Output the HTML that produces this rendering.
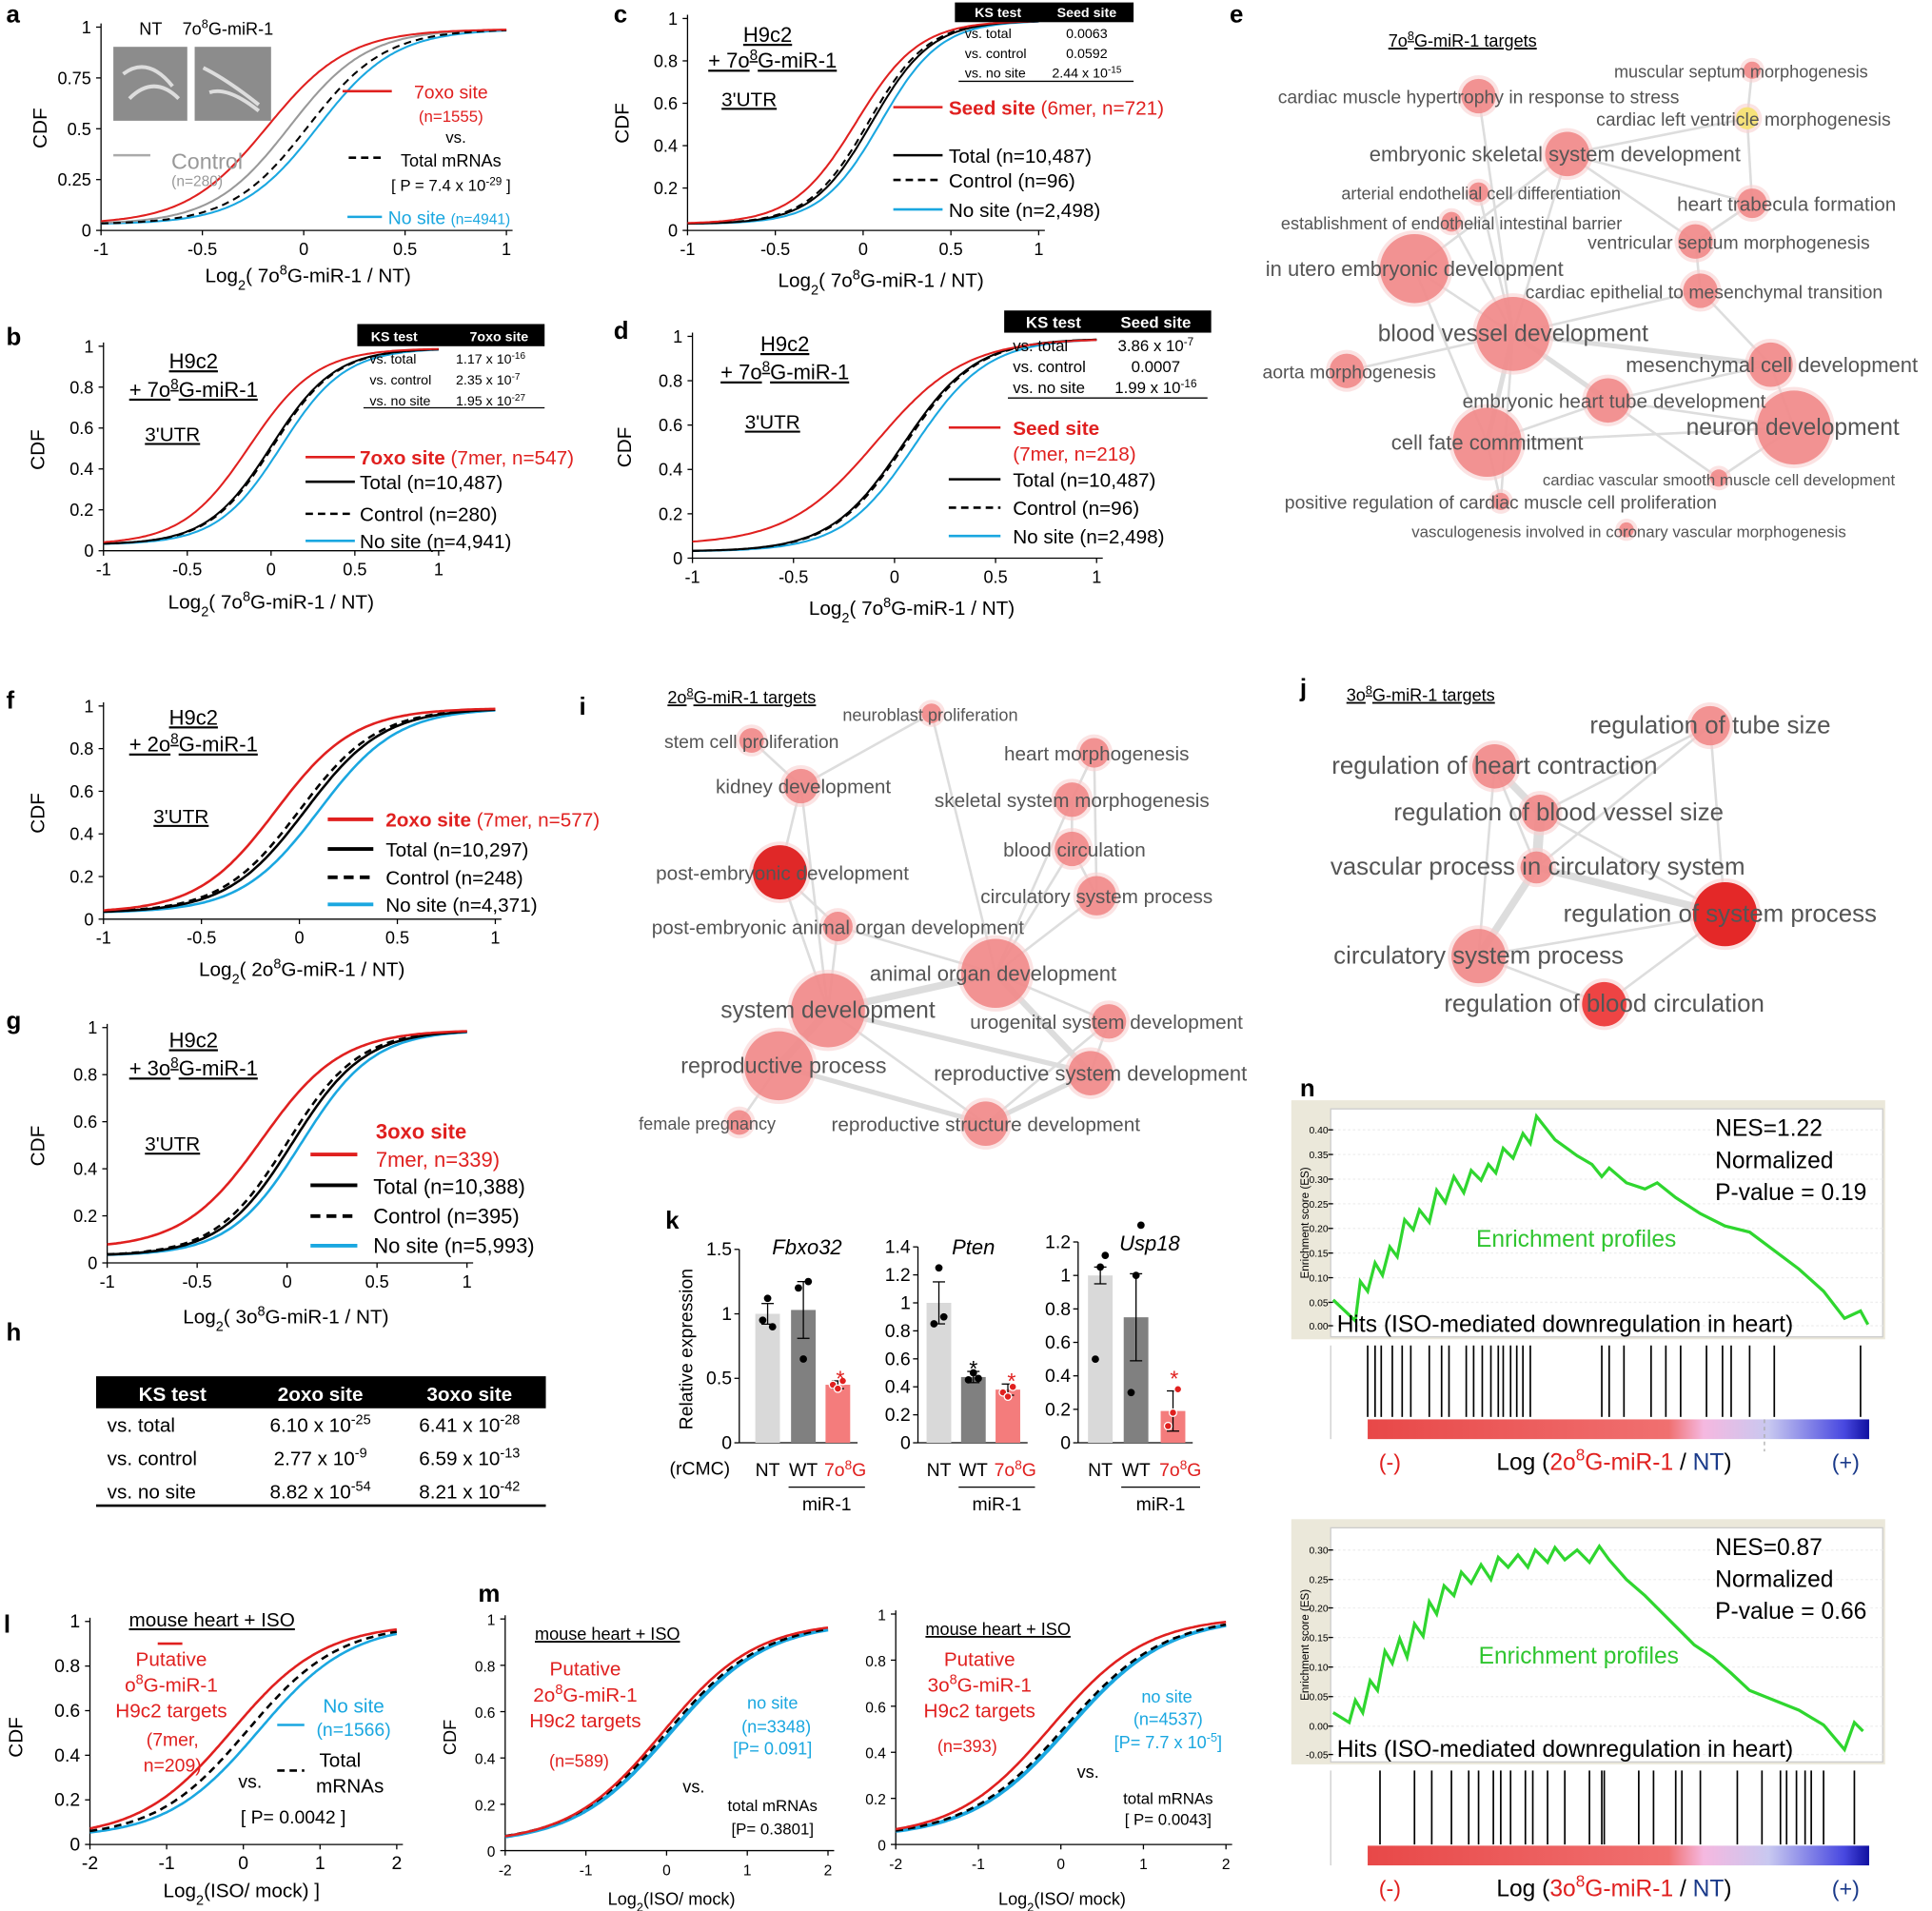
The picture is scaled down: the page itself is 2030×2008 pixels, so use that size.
<!DOCTYPE html>
<html><head><meta charset="utf-8"><style>html,body{margin:0;padding:0;background:#fff}svg{display:block}</style></head>
<body>
<svg id="sv" xmlns="http://www.w3.org/2000/svg" width="2030" height="2008" viewBox="0 0 1568 1551" font-family="Liberation Sans, Arial, sans-serif"></svg>
<script>
let s='';
const R='#e0201f',C='#1aa7e0',G='#999';
function fm(str){return String(str).replace(/\^([^\^]+)\^/g,'<tspan baseline-shift="super" font-size="70%">$1</tspan>').replace(/_([^_]+)_/g,'<tspan baseline-shift="sub" font-size="70%">$1</tspan>');}
function t(x,y,str,o={}){s+=`<text x="${x}" y="${y}" font-size="${o.s||15}" fill="${o.c||'#000'}" text-anchor="${o.a||'start'}" ${o.b?'font-weight="bold"':''} ${o.i?'font-style="italic"':''} ${o.r?`transform="rotate(-90 ${x} ${y})"`:''} ${o.u?'text-decoration="underline"':''}>${fm(str)}</text>`;}
function l(x1,y1,x2,y2,c='#000',w=1,d=''){s+=`<line x1="${x1}" y1="${y1}" x2="${x2}" y2="${y2}" stroke="${c}" stroke-width="${w}" ${d?`stroke-dasharray="${d}"`:''}/>`;}
function rc(x,y,w,h,f,st=''){s+=`<rect x="${x}" y="${y}" width="${w}" height="${h}" fill="${f}" ${st}/>`;}
function cdf(P){
 const X=v=>P.x0+(v-P.xa)/(P.xb-P.xa)*(P.x1-P.x0),Y=v=>P.y0-v*(P.y0-P.y1);
 l(P.x0,P.y0,P.x1+5,P.y0);l(P.x0,P.y0,P.x0,P.y1-3);
 const fs=P.fs||14;
 P.yt.forEach(v=>{l(P.x0-4,Y(v),P.x0,Y(v));t(P.x0-8,Y(v)+5,v,{a:'end',s:fs});});
 P.xt.forEach(v=>{l(X(v),P.y0,X(v),P.y0+4);t(X(v),P.y0+20,v,{a:'middle',s:fs});});
 P.c.forEach(c=>{let pts=[];for(let i=0;i<=160;i++){const v=P.xa+(P.xb-P.xa)*i/160;const p=(c.lo||0.03)+(0.99-(c.lo||0.03))/(1+Math.exp(-(v-c.m)/c.s));pts.push(X(v).toFixed(1)+','+Y(p).toFixed(1));}
 s+=`<polyline points="${pts.join(' ')}" fill="none" stroke="${c.c}" stroke-width="${c.w||1.6}" ${c.d?`stroke-dasharray="${c.d}"`:''}/>`;});
}
const L=(a,b)=>`Log_2_( ${a}^8^G-miR-1 / NT)`;
// ---- a
t(5,18,'a',{b:1,s:20});
rc(92,38,60,60,'#8c8c8c');rc(158,38,62,60,'#8c8c8c');
s+='<path d="M100,60 q20,-15 40,10 M105,80 q20,-20 40,0 M165,55 q20,10 45,30 M170,75 q15,-5 40,15" stroke="#ddd" stroke-width="3" fill="none"/>';
t(113,28,'NT',{s:14});t(148,28,'7o^8^G-miR-1',{s:14});
cdf({x0:82,x1:411,xa:-1,xb:1,y0:187,y1:22,yt:[0,0.25,0.5,0.75,1],xt:[-1,-0.5,0,0.5,1],c:[{c:C,m:0.07,s:0.19},{c:G,m:-0.07,s:0.19},{c:'#000',m:0.02,s:0.19,d:'6,4'},{c:R,m:-0.18,s:0.2}]});
t(38,104,'CDF',{r:1,a:'middle',s:16});t(250,229,L('7o'),{a:'middle',s:16});
l(278,74,318,74,R,2);t(366,80,'7oxo site',{a:'middle',c:R,s:15});t(366,99,'(n=1555)',{a:'middle',c:R,s:13});t(370,116,'vs.',{a:'middle',s:13});
l(283,128,310,128,'#000',2,'6,4');t(366,135,'Total mRNAs',{a:'middle',s:14});t(366,155,'[ P = 7.4 x 10^-29^ ]',{a:'middle',s:13});
l(92,126,122,126,'#aaa',2);t(168,137,'Control',{a:'middle',c:G,s:18});t(160,151,'(n=280)',{a:'middle',c:G,s:12});
l(282,176,310,176,C,2);t(315,182,'No site <tspan font-size="12">(n=4941)</tspan>',{c:C,s:15});
// ---- b
t(5,280,'b',{b:1,s:20});
cdf({x0:84,x1:356,xa:-1,xb:1,y0:447,y1:281,yt:[0,0.2,0.4,0.6,0.8,1],xt:[-1,-0.5,0,0.5,1],c:[{c:C,m:0.06,s:0.19},{c:'#000',m:0.01,s:0.19,d:'6,4'},{c:'#000',m:0,s:0.19},{c:R,m:-0.13,s:0.2}]});
t(36,365,'CDF',{r:1,a:'middle',s:16});t(220,494,L('7o'),{a:'middle',s:16});
t(157,299,'H9c2',{a:'middle',s:17,u:1});t(157,322,'+ 7o^8^G-miR-1',{a:'middle',s:17,u:1});t(140,358,"3'UTR",{a:'middle',s:16,u:1});
rc(290,263,152,18,'#000');t(320,277,'KS test',{a:'middle',c:'#fff',b:1,s:11});t(405,277,'7oxo site',{a:'middle',c:'#fff',b:1,s:11});
[['vs. total','1.17 x 10^-16^'],['vs. control','2.35 x 10^-7^'],['vs. no site','1.95 x 10^-27^']].forEach((r,i)=>{t(300,295+i*17,r[0],{s:11});t(370,295+i*17,r[1],{s:11});});l(295,331,442,331);
l(248,371,288,371,R,2);t(292,377,'<tspan font-weight="bold">7oxo site</tspan> (7mer, n=547)',{c:R,s:16});
l(248,391,288,391,'#000',2);t(292,397,'Total (n=10,487)',{s:16});l(248,417,288,417,'#000',2,'6,4');t(292,423,'Control (n=280)',{s:16});l(248,439,288,439,C,2);t(292,445,'No site (n=4,941)',{s:16});
// ---- c
t(498,18,'c',{b:1,s:20});
cdf({x0:558,x1:843,xa:-1,xb:1,y0:187,y1:15,yt:[0,0.2,0.4,0.6,0.8,1],xt:[-1,-0.5,0,0.5,1],c:[{c:C,m:0.1,s:0.17},{c:'#000',m:0.03,s:0.17,d:'6,4'},{c:'#000',m:0.05,s:0.17},{c:R,m:-0.04,s:0.18}]});
t(510,100,'CDF',{r:1,a:'middle',s:16});t(715,233,L('7o'),{a:'middle',s:16});
t(623,34,'H9c2',{a:'middle',s:17,u:1});t(627,55,'+ 7o^8^G-miR-1',{a:'middle',s:17,u:1});t(608,86,"3'UTR",{a:'middle',s:16,u:1});
rc(775,2,145,16,'#000');t(810,14,'KS test',{a:'middle',c:'#fff',b:1,s:11});t(882,14,'Seed site',{a:'middle',c:'#fff',b:1,s:11});
[['vs. total','0.0063'],['vs. control','0.0592'],['vs. no site','2.44 x 10^-15^']].forEach((r,i)=>{t(783,31+i*16,r[0],{s:11});t(882,31+i*16,r[1],{a:'middle',s:11});});l(778,66,920,66);
l(725,87,765,87,R,2);t(770,93,'<tspan font-weight="bold">Seed site</tspan> (6mer, n=721)',{c:R,s:16});
l(725,126,765,126,'#000',2);t(770,132,'Total (n=10,487)',{s:16});l(725,146,765,146,'#000',2,'6,4');t(770,152,'Control (n=96)',{s:16});l(725,170,765,170,C,2);t(770,176,'No site (n=2,498)',{s:16});
// ---- d
t(498,275,'d',{b:1,s:20});
cdf({x0:562,x1:890,xa:-1,xb:1,y0:453,y1:273,yt:[0,0.2,0.4,0.6,0.8,1],xt:[-1,-0.5,0,0.5,1],c:[{c:C,m:0.1,s:0.18},{c:'#000',m:0.05,s:0.18,d:'6,4'},{c:'#000',m:0.04,s:0.18},{c:R,m:-0.09,s:0.22,lo:0.06}]});
t(512,363,'CDF',{r:1,a:'middle',s:16});t(740,499,L('7o'),{a:'middle',s:16});
t(637,285,'H9c2',{a:'middle',s:17,u:1});t(637,308,'+ 7o^8^G-miR-1',{a:'middle',s:17,u:1});t(627,348,"3'UTR",{a:'middle',s:16,u:1});
rc(815,252,168,18,'#000');t(855,266,'KS test',{a:'middle',c:'#fff',b:1,s:13});t(938,266,'Seed site',{a:'middle',c:'#fff',b:1,s:13});
[['vs. total','3.86 x 10^-7^'],['vs. control','0.0007'],['vs. no site','1.99 x 10^-16^']].forEach((r,i)=>{t(822,285+i*17,r[0],{s:13});t(938,285+i*17,r[1],{a:'middle',s:13});});l(818,323,980,323);
l(770,347,812,347,R,2);t(822,353,'Seed site',{c:R,b:1,s:16});t(822,374,'(7mer, n=218)',{c:R,s:16});
l(770,389,812,389,'#000',2);t(822,395,'Total (n=10,487)',{s:16});l(770,412,812,412,'#000',2,'6,4');t(822,418,'Control (n=96)',{s:16});l(770,435,812,435,C,2);t(822,441,'No site (n=2,498)',{s:16});
// ---- f
t(5,575,'f',{b:1,s:20});
cdf({x0:84,x1:402,xa:-1,xb:1,y0:746,y1:573,yt:[0,0.2,0.4,0.6,0.8,1],xt:[-1,-0.5,0,0.5,1],c:[{c:C,m:0.1,s:0.2,w:2},{c:'#000',m:0.0,s:0.2,d:'6,4',w:2},{c:'#000',m:0.03,s:0.2,w:2},{c:R,m:-0.12,s:0.2,w:2}]});
t(36,660,'CDF',{r:1,a:'middle',s:16});t(245,792,L('2o'),{a:'middle',s:16});
t(157,588,'H9c2',{a:'middle',s:17,u:1});t(157,610,'+ 2o^8^G-miR-1',{a:'middle',s:17,u:1});t(147,668,"3'UTR",{a:'middle',s:16,u:1});
l(266,665,303,665,R,3);t(313,671,'<tspan font-weight="bold">2oxo site</tspan> (7mer, n=577)',{c:R,s:16});
l(266,689,303,689,'#000',3);t(313,695,'Total (n=10,297)',{s:16});l(266,712,303,712,'#000',3,'8,5');t(313,718,'Control (n=248)',{s:16});l(266,734,303,734,C,3);t(313,740,'No site (n=4,371)',{s:16});
// ---- g
t(5,835,'g',{b:1,s:20});
cdf({x0:87,x1:379,xa:-1,xb:1,y0:1025,y1:834,yt:[0,0.2,0.4,0.6,0.8,1],xt:[-1,-0.5,0,0.5,1],c:[{c:C,m:0.08,s:0.2,w:2},{c:'#000',m:0.0,s:0.2,d:'6,4',w:2},{c:'#000',m:0.03,s:0.2,w:2},{c:R,m:-0.14,s:0.22,w:2,lo:0.06}]});
t(36,930,'CDF',{r:1,a:'middle',s:16});t(232,1074,L('3o'),{a:'middle',s:16});
t(157,850,'H9c2',{a:'middle',s:17,u:1});t(157,873,'+ 3o^8^G-miR-1',{a:'middle',s:17,u:1});t(140,934,"3'UTR",{a:'middle',s:16,u:1});
t(305,924,'3oxo site',{c:R,b:1,s:17});l(252,937,290,937,R,3);t(305,947,'7mer, n=339)',{c:R,s:17});
l(252,962,290,962,'#000',3);t(303,969,'Total (n=10,388)',{s:17});l(252,987,290,987,'#000',3,'8,5');t(303,993,'Control (n=395)',{s:17});l(252,1011,290,1011,C,3);t(303,1017,'No site (n=5,993)',{s:17});
// ---- h
t(5,1088,'h',{b:1,s:20});
rc(78,1117,365,26,'#000');t(140,1137,'KS test',{a:'middle',c:'#fff',b:1,s:16});t(260,1137,'2oxo site',{a:'middle',c:'#fff',b:1,s:16});t(381,1137,'3oxo site',{a:'middle',c:'#fff',b:1,s:16});
[['vs. total','6.10 x 10^-25^','6.41 x 10^-28^'],['vs. control','2.77 x 10^-9^','6.59 x 10^-13^'],['vs. no site','8.82 x 10^-54^','8.21 x 10^-42^']].forEach((r,i)=>{const y=1162+i*27;t(87,y,r[0],{s:16});t(260,y,r[1],{a:'middle',s:16});t(381,y,r[2],{a:'middle',s:16});});
l(78,1222,443,1222,'#000',2);
// ---- l
t(3,1325,'l',{b:1,s:20});
cdf({x0:73,x1:322,xa:-2,xb:2,y0:1497,y1:1316,yt:[0,0.2,0.4,0.6,0.8,1],xt:[-2,-1,0,1,2],fs:15,c:[{c:C,m:0.2,s:0.6,w:2},{c:'#000',m:0.05,s:0.6,d:'6,4',w:2},{c:R,m:-0.15,s:0.6,w:2}]});
t(18,1410,'CDF',{r:1,a:'middle',s:16});t(196,1540,'Log_2_(ISO/ mock) ]',{a:'middle',s:16});
t(172,1320,'mouse heart  + ISO',{a:'middle',s:16,u:1});l(128,1334,148,1334,R,2);
['Putative','o^8^G-miR-1','H9c2 targets'].forEach((x,i)=>t(139,1352+i*21,x,{a:'middle',c:R,s:16}));t(140,1417,'(7mer,',{a:'middle',c:R,s:15});t(140,1438,'n=209)',{a:'middle',c:R,s:15});
t(203,1451,'vs.',{a:'middle',s:15});l(225,1400,247,1400,C,2);t(287,1390,'No site',{a:'middle',c:C,s:16});t(287,1409,'(n=1566)',{a:'middle',c:C,s:15});
l(225,1437,247,1437,'#000',2,'6,4');t(276,1434,'Total',{a:'middle',s:16});t(284,1455,'mRNAs',{a:'middle',s:16});t(238,1480,'[ P= 0.0042 ]',{a:'middle',s:15});
// ---- m
t(388,1300,'m',{b:1,s:20});
cdf({x0:410,x1:672,xa:-2,xb:2,y0:1502,y1:1314,yt:[0,0.2,0.4,0.6,0.8,1],xt:[-2,-1,0,1,2],fs:12,c:[{c:C,m:0.05,s:0.6,w:3},{c:'#000',m:0,s:0.6,d:'6,4',w:2},{c:R,m:-0.05,s:0.58,w:2}]});
t(370,1410,'CDF',{r:1,a:'middle',s:14});t(545,1546,'Log_2_(ISO/ mock)',{a:'middle',s:14});
t(493,1331,'mouse heart  + ISO',{a:'middle',s:14,u:1});
['Putative','2o^8^G-miR-1','H9c2 targets'].forEach((x,i)=>t(475,1360+i*21,x,{a:'middle',c:R,s:16}));t(470,1434,'(n=589)',{a:'middle',c:R,s:14});t(563,1455,'vs.',{a:'middle',s:14});
t(627,1387,'no site',{a:'middle',c:C,s:14});t(630,1406,'(n=3348)',{a:'middle',c:C,s:14});t(627,1424,'[P= 0.091]',{a:'middle',c:C,s:14});t(627,1470,'total mRNAs',{a:'middle',s:13});t(627,1489,'[P= 0.3801]',{a:'middle',s:13});
cdf({x0:727,x1:995,xa:-2,xb:2,y0:1497,y1:1310,yt:[0,0.2,0.4,0.6,0.8,1],xt:[-2,-1,0,1,2],fs:12,c:[{c:C,m:0.1,s:0.6,w:3},{c:'#000',m:0.05,s:0.6,d:'6,4',w:2},{c:R,m:-0.12,s:0.58,w:2}]});
t(862,1546,'Log_2_(ISO/ mock)',{a:'middle',s:14});t(810,1327,'mouse heart  + ISO',{a:'middle',s:14,u:1});
['Putative','3o^8^G-miR-1','H9c2 targets'].forEach((x,i)=>t(795,1352+i*21,x,{a:'middle',c:R,s:16}));t(785,1422,'(n=393)',{a:'middle',c:R,s:14});t(883,1443,'vs.',{a:'middle',s:14});
t(947,1382,'no site',{a:'middle',c:C,s:14});t(948,1400,'(n=4537)',{a:'middle',c:C,s:14});t(948,1419,'[P= 7.7 x 10^-5^]',{a:'middle',c:C,s:14});t(948,1464,'total mRNAs',{a:'middle',s:13});t(948,1481,'[ P= 0.0043]',{a:'middle',s:13});
// ---- k
t(540,997,'k',{b:1,s:20});t(562,1095,'Relative expression',{r:1,a:'middle',s:15});t(568,1197,'(rCMC)',{a:'middle',s:15});
function bars(ax,top,max,ticks,xs,h,err,gene,gx,gy,dots){
 const Y=v=>1171-v/max*(1171-top);
 l(ax,1171,ax,top);l(ax,1171,xs[2]+16,1171);
 ticks.forEach(v=>{l(ax-4,Y(v),ax,Y(v));t(ax-6,Y(v)+5,v,{a:'end',s:15});});
 const cols=['#d9d9d9','#808080','#f47c7c'];
 xs.forEach((x,i)=>{rc(x-10,Y(h[i]),20,1171-Y(h[i]),cols[i]);l(x,Y(h[i]-err[i]),x,Y(h[i]+err[i]));l(x-5,Y(h[i]-err[i]),x+5,Y(h[i]-err[i]));l(x-5,Y(h[i]+err[i]),x+5,Y(h[i]+err[i]));
  dots[i].forEach((d,j)=>{s+=`<circle cx="${x+(j-1)*4}" cy="${Y(d)}" r="3" fill="${i==2?R:'#000'}" ${i==2?'stroke="#fff"':''}/>`;});});
 t(gx,gy,gene,{a:'middle',i:1,s:17});
 t(xs[0],1198,'NT',{a:'middle',s:15});t(xs[1],1198,'WT',{a:'middle',s:15});t(xs[2]+6,1198,'7o^8^G',{a:'middle',s:15,c:R});
 l(xs[1]-12,1207,xs[2]+22,1207);t((xs[1]+xs[2])/2+5,1226,'miR-1',{a:'middle',s:15});
}
bars(600,1014,1.5,[0,0.5,1,1.5],[623,652,680],[1,1.03,0.45],[0.08,0.22,0.03],'Fbxo32',655,1018,[[0.95,1.12,0.9],[1.2,0.65,1.25],[0.45,0.42,0.48]]);
t(682,1125,'*',{a:'middle',c:R,s:18});
bars(745,1012,1.4,[0,0.2,0.4,0.6,0.8,1,1.2,1.4],[762,790,818],[1,0.47,0.38],[0.15,0.04,0.04],'Pten',790,1018,[[0.85,1.25,0.9],[0.45,0.5,0.46],[0.36,0.33,0.4]]);
t(790,1117,'*',{a:'middle',s:18});t(821,1127,'*',{a:'middle',c:R,s:18});
bars(875,1008,1.2,[0,0.2,0.4,0.6,0.8,1,1.2],[893,922,952],[1,0.75,0.19],[0.05,0.26,0.12],'Usp18',933,1015,[[0.5,1.05,1.12],[0.3,1.0,1.3],[0.1,0.18,0.32]]);
t(953,1125,'*',{a:'middle',c:R,s:18});
// ---- networks
function net(nodes,edges,fs){
 edges.forEach(e=>{const a=nodes[e[0]],b=nodes[e[1]];l(a[0],a[1],b[0],b[1],'#ddd',e[2]||2);});
 nodes.forEach(n=>{s+=`<circle cx="${n[0]}" cy="${n[1]}" r="${n[2]+3}" fill="#f8d0d0" opacity="0.6"/><circle cx="${n[0]}" cy="${n[1]}" r="${n[2]}" fill="${n[5]||'#f08484'}" opacity="${n[5]?1:0.85}"/>`;});
 nodes.forEach(n=>t(n[3],n[1]+6,n[4],{a:'middle',c:'#555',s:n[6]||fs}));
}
t(998,18,'e',{b:1,s:20});t(1187,38,'7o^8^G-miR-1 targets',{a:'middle',s:14,u:1});
const E=[[1422,57,7,1413,'muscular septum morphogenesis',0,14],[1200,78,14,1200,'cardiac muscle hypertrophy in response to stress',0,15],[1418,96,9,1415,'cardiac left ventricle morphogenesis','#f6e27a',15],
[1272,125,18,1262,'embryonic skeletal system development',0,17],[1200,156,8,1202,'arterial endothelial cell differentiation',0,14],[1422,165,12,1450,'heart trabecula formation',0,16],
[1178,180,8,1178,'establishment of endothelial intestinal barrier',0,14],[1376,196,14,1403,'ventricular septum morphogenesis',0,15],[1148,218,28,1148,'in utero embryonic development',0,17],
[1380,236,14,1383,'cardiac epithelial to mesenchymal transition',0,15],[1228,271,30,1228,'blood vessel development',0,19],[1093,301,14,1095,'aorta morphogenesis',0,15],
[1437,296,18,1438,'mesenchymal cell development',0,17],[1305,325,18,1310,'embryonic heart tube development',0,16],[1456,347,30,1455,'neuron development',0,19],
[1207,359,28,1207,'cell fate commitment',0,17],[1395,388,7,1395,'cardiac vascular smooth muscle cell development',0,13],[1218,407,7,1218,'positive regulation of cardiac muscle cell proliferation',0,15],[1320,430,6,1322,'vasculogenesis involved in coronary vascular morphogenesis',0,13]];
net(E,[[0,2],[2,3],[2,5],[3,7],[3,10],[3,8],[1,10],[5,7],[7,9],[9,10],[9,12],[10,8],[10,11],[10,12,4],[10,13,4],[10,15,4],[13,15],[13,14],[12,14],[14,15],[8,15],[10,17],[15,17],[13,16],[16,14],[4,10],[6,10],[12,13],[3,5]],16);
t(470,580,'i',{b:1,s:20});t(602,571,'2o^8^G-miR-1 targets',{a:'middle',s:14,u:1});
const I=[[756,579,8,755,'neuroblast proliferation',0,14],[610,601,10,610,'stem cell proliferation',0,15],[888,611,12,890,'heart morphogenesis',0,16],[650,638,14,652,'kidney development',0,16],
[870,649,14,870,'skeletal system morphogenesis',0,16],[870,689,14,872,'blood circulation',0,16],[633,708,22,635,'post-embryonic development','#e02828',16],[890,727,16,890,'circulatory system process',0,16],
[680,752,12,680,'post-embryonic animal organ development',0,16],[808,790,28,806,'animal organ development',0,17],[672,820,30,672,'system development',0,19],[900,829,14,898,'urogenital system development',0,16],
[632,865,28,636,'reproductive process',0,18],[885,871,18,885,'reproductive system development',0,17],[600,911,10,574,'female pregnancy',0,14],[800,912,18,800,'reproductive structure development',0,16]];
net(I,[[0,3],[0,9],[1,3],[2,4],[4,5],[5,7],[2,7],[3,6],[6,10],[6,8],[8,10],[9,10,6],[9,8],[9,11],[9,13,5],[10,12,6],[10,13,4],[12,15,4],[13,15,4],[11,13],[12,14],[3,10],[5,9],[7,9],[10,15],[4,9],[11,15]],16);
t(1055,565,'j',{b:1,s:20});t(1153,569,'3o^8^G-miR-1 targets',{a:'middle',s:14,u:1});
const J=[[1388,589,16,1388,'regulation of tube size',0,20],[1213,622,18,1213,'regulation of heart contraction',0,20],[1250,660,15,1265,'regulation of blood vessel size',0,20],[1247,704,13,1248,'vascular process in circulatory system',0,20],
[1400,742,26,1396,'regulation of system process','#e42828',20],[1200,776,22,1200,'circulatory system process',0,20],[1302,815,18,1302,'regulation of blood circulation','#ee4444',20]];
net(J,[[0,2],[0,3],[1,2,6],[1,3],[2,3,8],[3,4,6],[3,5,6],[4,5],[4,6],[5,6],[1,5],[2,4],[0,4]],20);
// ---- n
t(1055,890,'n',{b:1,s:20});
function gsea(top,bot,ylabs,y0,pts,nes,pv,epy,hitsTop,hitsBot,barY,lab,xs){
 rc(1048,top-7,482,bot-top+9,'#ebe8da');rc(1080,top,448,bot-top,'#fff','stroke="#ccc"');
 ylabs.forEach(v=>{t(1078,v[1]+3,v[0],{a:'end',s:8});l(1078,v[1],1082,v[1]);s+=`<line x1="1082" y1="${v[1]}" x2="1528" y2="${v[1]}" stroke="#eee" stroke-dasharray="2,2"/>`;});
 t(1062,(top+bot)/2,'Enrichment score (ES)',{r:1,a:'middle',s:9});
 s+=`<polyline points="${pts.map(p=>p.join(',')).join(' ')}" fill="none" stroke="#2fd62f" stroke-width="2.5"/>`;
 t(1392,top+22,nes,{s:19});t(1392,top+48,'Normalized',{s:19});t(1392,top+74,pv,{s:19});
 t(epy[0],epy[1],'Enrichment profiles',{c:'#2fc52f',s:19});t(1085,bot-4,'Hits (ISO-mediated downregulation in heart)',{s:19});
 l(1080,hitsTop,1080,barY+16,'#ccc');xs.forEach(x=>l(x,hitsTop,x,hitsBot,'#000',1.3));
 s+=`<defs><linearGradient id="g${top}"><stop offset="0" stop-color="#e84848"/><stop offset="0.6" stop-color="#f07070"/><stop offset="0.67" stop-color="#f5b8e0"/><stop offset="0.8" stop-color="#c8c8f0"/><stop offset="0.95" stop-color="#4848e0"/><stop offset="1" stop-color="#1010a0"/></linearGradient></defs>`;
 rc(1110,barY,407,16,`url(#g${top})`);
 t(1128,barY+41,'(-)',{a:'middle',c:R,s:18});t(1498,barY+41,'(+)',{a:'middle',c:'#1a3a8a',s:18});
 t(1310,barY+41,`Log (<tspan fill="${R}">${lab}</tspan> / <tspan fill="#1a3a8a">NT</tspan>)`,{a:'middle',s:19});
}
const p1=[[1082,1055],[1100,1072],[1104,1040],[1110,1048],[1116,1025],[1122,1035],[1128,1012],[1134,1020],[1140,990],[1147,998],[1152,982],[1160,992],[1166,966],[1173,976],[1180,955],[1188,968],[1194,950],[1202,958],[1208,945],[1214,952],[1220,932],[1228,940],[1236,920],[1242,928],[1247,906],[1262,925],[1280,938],[1292,945],[1300,955],[1306,948],[1320,960],[1335,965],[1345,960],[1360,972],[1380,985],[1400,995],[1420,1000],[1440,1015],[1460,1030],[1480,1048],[1497,1070],[1510,1064],[1516,1075]];
gsea(900,1085,[['0.40',917],['0.35',937],['0.30',957],['0.25',977],['0.20',997],['0.15',1017],['0.10',1037],['0.05',1057],['0.00',1076]],1076,p1,'NES=1.22','P-value = 0.19',[1198,1012],1092,1150,1152,'2o^8^G-miR-1',
[1110,1116,1121,1130,1138,1145,1160,1170,1176,1190,1196,1203,1210,1216,1220,1226,1231,1236,1242,1300,1306,1318,1340,1352,1364,1385,1398,1405,1420,1440,1510]);
l(1432,1152,1432,1178,'#aaa',1,'3,3');
const p2=[[1082,1390],[1095,1398],[1100,1380],[1106,1390],[1112,1364],[1118,1372],[1124,1340],[1130,1350],[1136,1330],[1142,1345],[1148,1318],[1155,1328],[1160,1300],[1166,1310],[1172,1287],[1180,1295],[1186,1276],[1194,1285],[1202,1270],[1210,1282],[1216,1264],[1224,1272],[1232,1262],[1240,1272],[1246,1258],[1256,1268],[1262,1256],[1270,1266],[1280,1258],[1290,1268],[1298,1255],[1306,1266],[1320,1282],[1335,1295],[1350,1310],[1360,1320],[1375,1335],[1390,1345],[1405,1358],[1420,1372],[1440,1380],[1460,1388],[1480,1400],[1497,1420],[1505,1398],[1512,1405]];
gsea(1240,1430,[['0.30',1258],['0.25',1282],['0.20',1305],['0.15',1329],['0.10',1353],['0.05',1377],['0.00',1401],['-0.05',1424]],1401,p2,'NES=0.87','P-value = 0.66',[1200,1350],1437,1497,1498,'3o^8^G-miR-1',
[1120,1148,1162,1178,1192,1200,1212,1218,1226,1238,1244,1256,1270,1290,1300,1302,1330,1342,1360,1365,1380,1410,1430,1445,1450,1458,1465,1470,1480,1505]);
document.getElementById('sv').innerHTML=s;
</script>
</body></html>
